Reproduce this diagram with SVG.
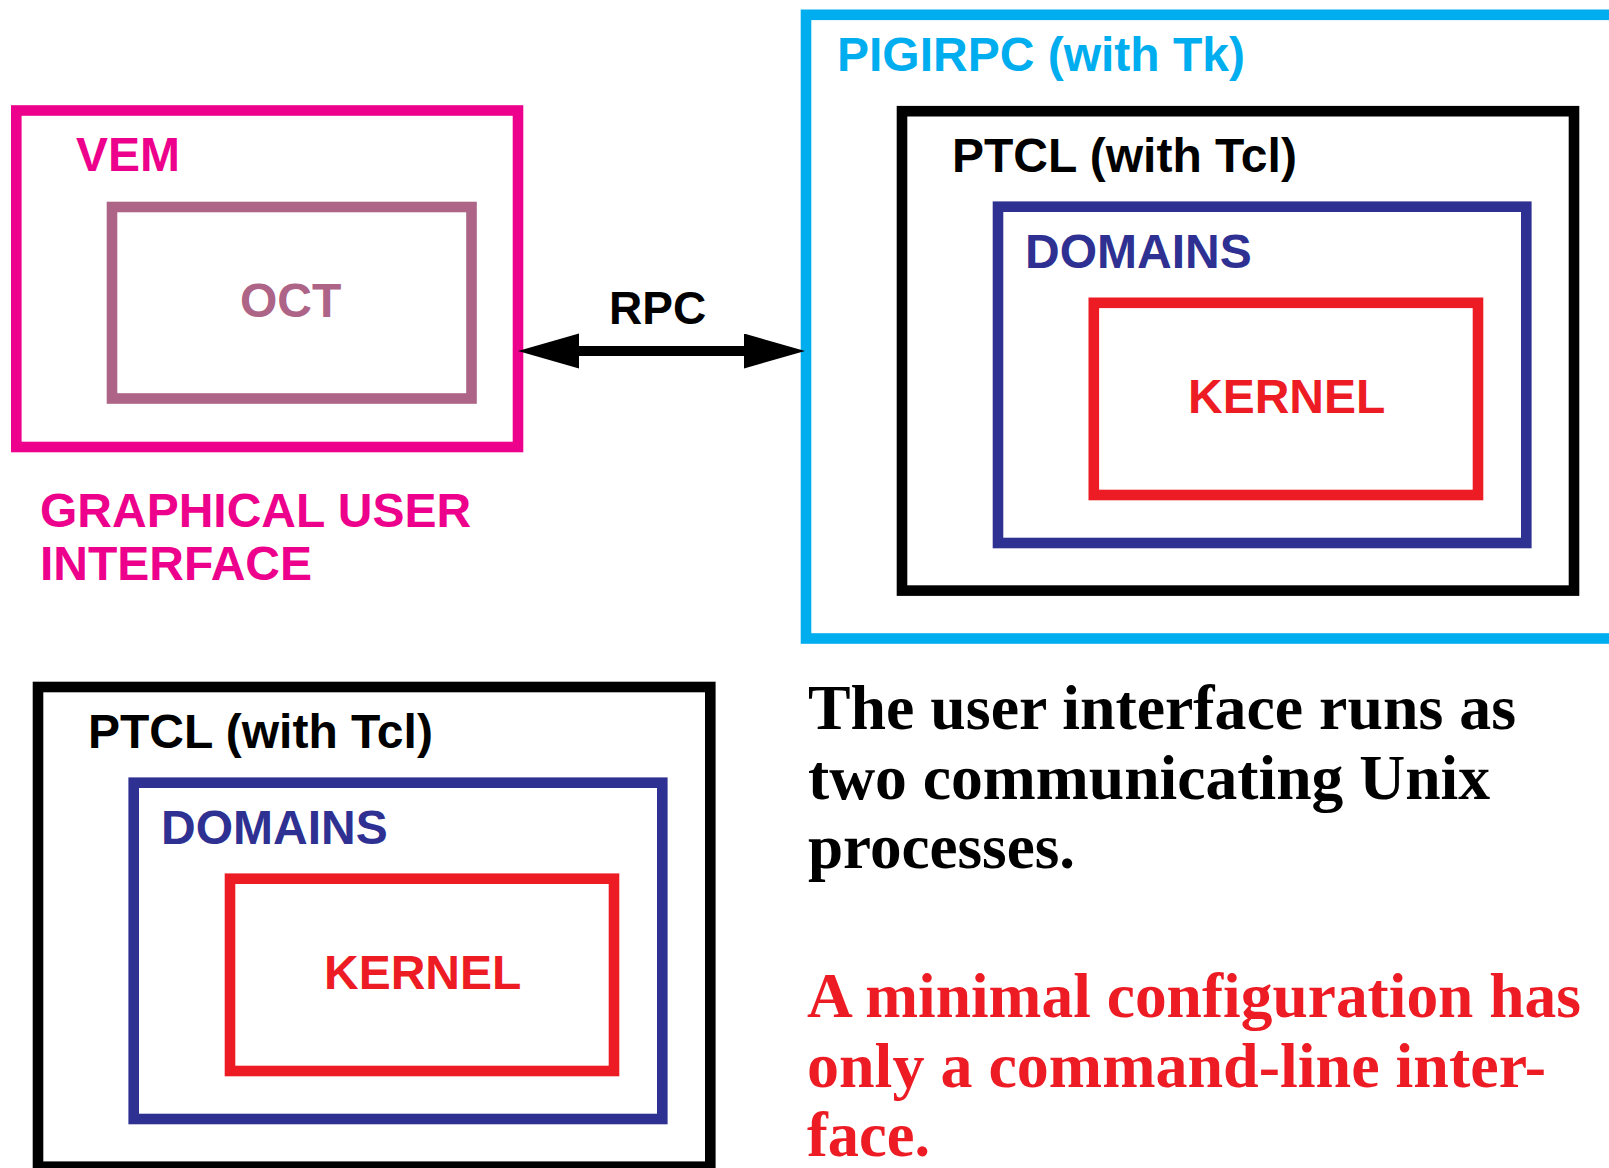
<svg xmlns="http://www.w3.org/2000/svg" width="1609" height="1168" viewBox="0 0 1609 1168">
<style>
.box{fill:none;stroke-width:10.6}
.lab{font-family:"Liberation Sans",Arial,Helvetica,sans-serif;font-weight:bold;font-size:48px}
.body{font-family:"Liberation Serif","Times New Roman",Times,serif;font-weight:bold;font-size:64px}
.pink{stroke:#EC008C}
.mauve{stroke:#AD6486}
.cyan{stroke:#00AEEF}
.blk{stroke:#000000}
.navy{stroke:#2E3192}
.red{stroke:#ED1C24}
</style>
<defs>
<marker id="head" markerUnits="userSpaceOnUse" markerWidth="62" markerHeight="36" refX="0" refY="17.5" orient="auto-start-reverse" viewBox="0 0 62 36">
<path d="M0,0 L61,17.5 L0,35 Z" fill="#000000"/>
</marker>
</defs>
<rect width="1609" height="1168" fill="#ffffff"/>

<g id="vem">
<rect class="box pink" x="16.3" y="110.5" width="501.7" height="336.5"/>
<text class="lab" x="76" y="171" fill="#EC008C">VEM</text>
</g>
<g id="oct">
<rect class="box mauve" x="112" y="207" width="359.5" height="191.5"/>
<text class="lab" x="240" y="317" fill="#AD6486">OCT</text>
</g>
<g id="gui-label">
<text class="lab" x="40" y="527" fill="#EC008C">GRAPHICAL USER</text>
<text class="lab" x="40" y="580" fill="#EC008C">INTERFACE</text>
</g>

<g id="pigirpc">
<rect class="box cyan" x="806" y="14.8" width="830" height="623.7"/>
<text class="lab" x="837" y="70.7" fill="#00AEEF">PIGIRPC (with Tk)</text>
</g>
<g id="ptcl-top">
<rect class="box blk" x="902" y="111.2" width="672" height="479.4"/>
<text class="lab" x="952" y="171.7" fill="#000000">PTCL (with Tcl)</text>
</g>
<g id="domains-top">
<rect class="box navy" x="998" y="206.7" width="528.3" height="336.3"/>
<text class="lab" x="1025" y="267.7" fill="#2E3192">DOMAINS</text>
</g>
<g id="kernel-top">
<rect class="box red" x="1093.8" y="302.8" width="384.2" height="192.2"/>
<text class="lab" x="1188" y="412.7" fill="#ED1C24">KERNEL</text>
</g>

<g id="ptcl-bottom">
<rect class="box blk" x="38" y="687" width="672.3" height="479.7"/>
<text class="lab" x="88" y="748.3" fill="#000000">PTCL (with Tcl)</text>
</g>
<g id="domains-bottom">
<rect class="box navy" x="133.7" y="782.7" width="528.6" height="336.3"/>
<text class="lab" x="161" y="844.3" fill="#2E3192">DOMAINS</text>
</g>
<g id="kernel-bottom">
<rect class="box red" x="230" y="878.7" width="384" height="192.3"/>
<text class="lab" x="324" y="989" fill="#ED1C24">KERNEL</text>
</g>

<g id="connectors">
<line x1="579" y1="351" x2="744" y2="351" stroke="#000000" stroke-width="10" marker-start="url(#head)" marker-end="url(#head)"/>
<text class="lab" x="609" y="324" fill="#000000" style="font-size:46px">RPC</text>
</g>

<g id="notes">
<text class="body" fill="#000000">
<tspan x="808" y="729.3" textLength="708" lengthAdjust="spacingAndGlyphs">The user interface runs as</tspan>
<tspan x="808" y="798.7" textLength="682" lengthAdjust="spacingAndGlyphs">two communicating Unix</tspan>
<tspan x="808" y="868.3" textLength="267" lengthAdjust="spacingAndGlyphs">processes.</tspan>
</text>
<text class="body" fill="#ED1C24">
<tspan x="807" y="1017.3" textLength="774" lengthAdjust="spacingAndGlyphs">A minimal configuration has</tspan>
<tspan x="807" y="1086.7" textLength="739" lengthAdjust="spacingAndGlyphs">only a command-line inter-</tspan>
<tspan x="807" y="1156" textLength="123" lengthAdjust="spacingAndGlyphs">face.</tspan>
</text>
</g>
</svg>
